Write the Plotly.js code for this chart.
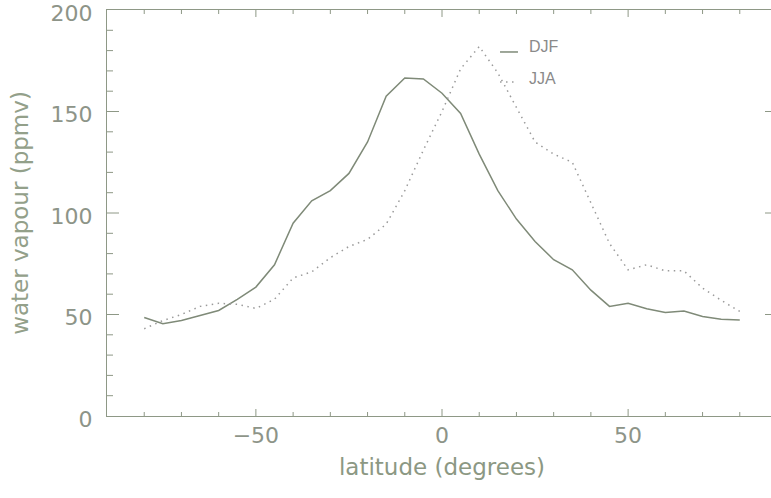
<!DOCTYPE html>
<html>
<head>
<meta charset="utf-8">
<script src="https://cdn.plot.ly/plotly-3.0.1.min.js"></script>
<style>
html,body{margin:0;padding:0;overflow:hidden;background:#fff;}
#chart{width:781px;height:498px;}
</style>
</head>
<body>
<div id="chart"></div>
<script>
// Latitude (degrees)
const latitude = [-80,-75,-70,-65,-60,-55,-50,-45,-40,-35,-30,-25,-20,-15,-10,-5,0,5,10,15,20,25,30,35,40,45,50,55,60,65,70,75,80];
// Water vapour (ppmv), December-January-February
const djf = [48.5,45.5,47,49.5,52,57.5,63.5,74.5,95,106,111,119.5,135,157.5,166.5,166,159,149,129,111,97,86,77,72,62,54,55.5,52.8,51,51.7,49,47.7,47.3];
// Water vapour (ppmv), June-July-August
const jja = [43,47,50,54,55.5,55,53,57.5,68,71,78,83.5,87,94.5,111,131,150,171,182,169,152,135,129,125,105,85,72,74.5,71.5,71.5,63,57,51.5];
const seriesNames = ["DJF","JJA"];
const xRange = [-90, 90], yRange = [0, 200];
const xTickStep = 50, xMinorStep = 10;
const yTickStep = 50, yMinorStep = 10;

const font = "DejaVu Sans, sans-serif";
const axisCol = "#8e9886";
const tickCol = "#8d9488";

const traces = [
  {x: latitude, y: djf, name: seriesNames[0], mode: "lines", type: "scatter",
   line: {color: "#7f8a78", width: 1.5}},
  {x: latitude, y: jja, name: seriesNames[1], mode: "lines", type: "scatter",
   line: {color: "#9a9a9a", width: 1.5, dash: "1.5px,4.5px"}}
];

// Inward-pointing IDL-style tick marks on all four sides, placed at axis values via the axes' own scales
const tickShapes = [];
for (let v = xRange[0] + xMinorStep; v < xRange[1]; v += xMinorStep) {
  const len = (v % xTickStep === 0) ? 7 : 4;
  [[0, len], [1, -len]].forEach(([anchor, l]) => tickShapes.push({
    type: "line", xref: "x", yref: "paper", ysizemode: "pixel", yanchor: anchor,
    x0: v, x1: v, y0: 0, y1: l, line: {color: axisCol, width: 1}, layer: "above"}));
}
for (let v = yRange[0] + yMinorStep; v < yRange[1]; v += yMinorStep) {
  const len = (v % yTickStep === 0) ? 12 : 6;
  [[0, len], [1, -len]].forEach(([anchor, l]) => tickShapes.push({
    type: "line", xref: "paper", yref: "y", xsizemode: "pixel", xanchor: anchor,
    x0: 0, x1: l, y0: v, y1: v, line: {color: axisCol, width: 1}, layer: "above"}));
}

const legendShapes = [
  {type: "line", xref: "paper", yref: "paper", x0: 0.5866, x1: 0.6134, y0: 0.8966, y1: 0.8966,
   line: {color: "#7f8a78", width: 1.5}},
  {type: "line", xref: "paper", yref: "paper", x0: 0.5866, x1: 0.6134, y0: 0.8227, y1: 0.8227,
   line: {color: "#9a9a9a", width: 1.5, dash: "1.5px,4.5px"}}
];

const layout = {
  width: 781, height: 498,
  margin: {l: 107, r: 4, t: 10, b: 82},
  paper_bgcolor: "#ffffff", plot_bgcolor: "#ffffff",
  showlegend: false,
  font: {family: font, color: tickCol},
  xaxis: {
    range: xRange, tickmode: "linear", tick0: 0, dtick: xTickStep, ticks: "",
    showline: true, linecolor: axisCol, linewidth: 1, mirror: true,
    showgrid: false, zeroline: false,
    tickfont: {family: font, size: 22, color: tickCol},
    title: {text: "latitude (degrees)", font: {family: font, size: 23, color: "#8c9883"}, standoff: 11}
  },
  yaxis: {
    range: yRange, tickmode: "linear", tick0: 0, dtick: yTickStep, ticks: "",
    showline: true, linecolor: axisCol, linewidth: 1, mirror: true,
    showgrid: false, zeroline: false,
    ticklabeloverflow: "allow", ticklabelstandoff: 9, ticklabelshift: 3,
    tickfont: {family: font, size: 22, color: tickCol},
    title: {text: "water vapour (ppmv)", font: {family: font, size: 23, color: "#93a08a"}, standoff: 15}
  },
  shapes: tickShapes.concat(legendShapes),
  annotations: [
    {xref: "paper", yref: "paper", x: 0.6269, y: 0.9089, xanchor: "left", yanchor: "middle",
     text: seriesNames[0], showarrow: false, font: {family: "Liberation Sans, sans-serif", size: 16, color: "#8a8a8a"}},
    {xref: "paper", yref: "paper", x: 0.6269, y: 0.8325, xanchor: "left", yanchor: "middle",
     text: seriesNames[1], showarrow: false, font: {family: "Liberation Sans, sans-serif", size: 16, color: "#8a8a8a"}}
  ]
};

Plotly.newPlot("chart", traces, layout, {displayModeBar: false});
</script>
</body>
</html>
